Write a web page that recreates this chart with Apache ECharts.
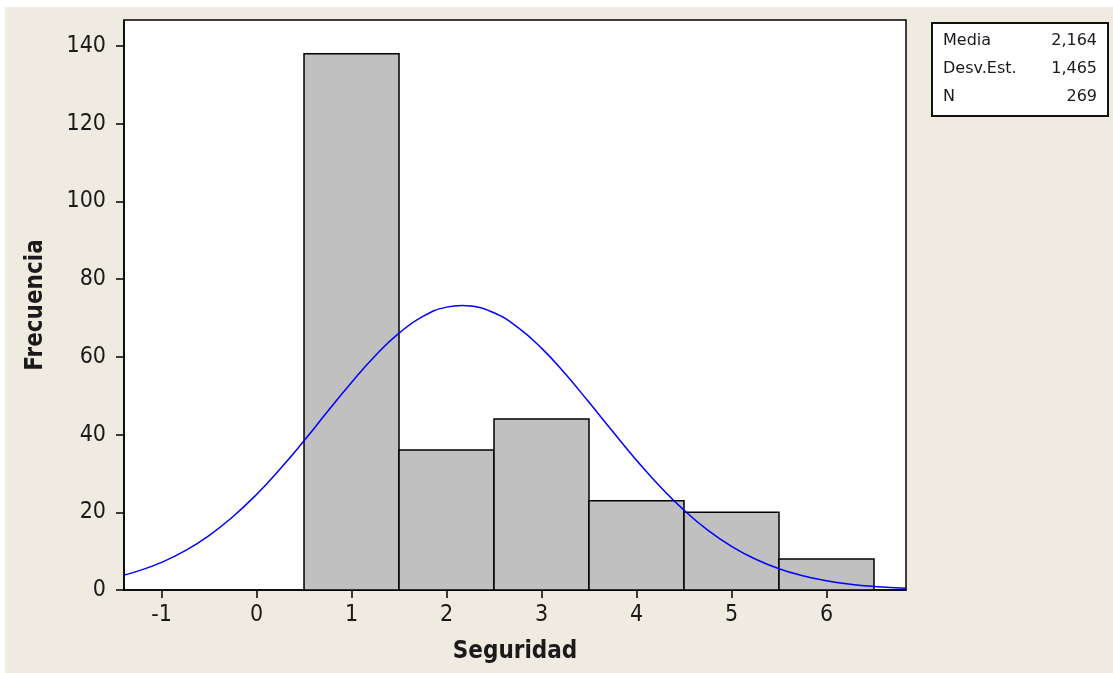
<!DOCTYPE html>
<html>
<head>
<meta charset="utf-8">
<script src="https://cdn.jsdelivr.net/npm/echarts@6/dist/echarts.min.js"></script>
<style>
  html, body { margin: 0; padding: 0; background: #ffffff; }
  #wrap { position: relative; width: 1113px; height: 673px; background: #ffffff; overflow: hidden; }
  #chart { position: absolute; left: 5px; top: 7px; width: 1108px; height: 666px; }
</style>
</head>
<body>
<div id="wrap"><div id="chart"></div></div>
<script>
// Histogram classes (bin centres) and counts
const binCenters = [1, 2, 3, 4, 5, 6];
const binCounts = [138, 36, 44, 23, 20, 8];
const binWidth = 1;

// Fitted normal curve (expected frequency per bin)
const curveX = [-1.395, -1.25, -1, -0.75, -0.5, -0.25, 0, 0.25, 0.5, 0.75, 1, 1.25, 1.5, 1.75, 2, 2.164, 2.25, 2.5, 2.75, 3, 3.25, 3.5, 3.75, 4, 4.25, 4.5, 4.75, 5, 5.25, 5.5, 5.75, 6, 6.25, 6.5, 6.837];
const curveY = [3.83, 4.85, 7.11, 10.13, 14.02, 18.85, 24.6, 31.2, 38.4, 45.98, 53.4, 60.3, 66.1, 70.4, 72.8, 73.25, 73.1, 71.35, 67.6, 62.25, 55.65, 48.3, 40.8, 33.4, 26.6, 20.55, 15.4, 11.25, 7.97, 5.48, 3.66, 2.38, 1.5, 0.92, 0.45];

// Axis ticks
const xTicks = [-1, 0, 1, 2, 3, 4, 5, 6];
const yTicks = [0, 20, 40, 60, 80, 100, 120, 140];

// Summary statistics
const statLabels = ['Media', 'Desv.Est.', 'N'];
const statValues = ['2,164', '1,465', '269'];

const FONT = '"DejaVu Sans Condensed", "DejaVu Sans", sans-serif';
const STAT_FONT = '"DejaVu Sans", sans-serif';
const INK = '#1a1a1a';

const chart = echarts.init(document.getElementById('chart'), null, { renderer: 'canvas' });

const statsGraphics = [{
  type: 'rect',
  left: 926, top: 15,
  shape: { width: 176, height: 93 },
  style: { fill: '#ffffff', stroke: '#111111', lineWidth: 2 },
  z: 10
}];
statLabels.forEach((t, i) => {
  statsGraphics.push({
    type: 'text', x: 938, y: 34 + i * 28, z: 11,
    style: { text: t, font: '16px ' + STAT_FONT, fill: INK, textAlign: 'left', textVerticalAlign: 'middle' }
  });
  statsGraphics.push({
    type: 'text', x: 1092, y: 34 + i * 28, z: 11,
    style: { text: statValues[i], font: '16px ' + STAT_FONT, fill: INK, textAlign: 'right', textVerticalAlign: 'middle' }
  });
});

chart.setOption({
  backgroundColor: '#F0EBE0',
  animation: false,
  grid: {
    left: 119, top: 13, width: 782, height: 570,
    show: true, backgroundColor: '#ffffff', borderColor: '#000000', borderWidth: 1.5
  },
  xAxis: {
    type: 'value', min: -1.395, max: 6.837,
    name: 'Seguridad', nameLocation: 'middle', nameGap: 50,
    nameTextStyle: { fontFamily: FONT, fontSize: 24, fontWeight: 'bold', color: INK },
    axisLine: { show: true, onZero: false, lineStyle: { color: '#000000', width: 1.5 } },
    axisTick: { show: true, length: 8, customValues: xTicks, lineStyle: { color: '#000000', width: 1.5 } },
    axisLabel: { customValues: xTicks, margin: 14, fontFamily: FONT, fontSize: 23, color: INK },
    splitLine: { show: false }
  },
  yAxis: {
    type: 'value', min: 0, max: 146.7,
    name: 'Frecuencia', nameLocation: 'middle', nameGap: 76,
    nameTextStyle: { fontFamily: FONT, fontSize: 24, fontWeight: 'bold', color: INK },
    axisLine: { show: true, onZero: false, lineStyle: { color: '#000000', width: 1.5 } },
    axisTick: { show: true, length: 8, customValues: yTicks, lineStyle: { color: '#000000', width: 1.5 } },
    axisLabel: { customValues: yTicks, margin: 18, fontFamily: FONT, fontSize: 23, color: INK },
    splitLine: { show: false }
  },
  graphic: statsGraphics,
  series: [
    {
      type: 'custom',
      name: 'Frecuencia',
      data: binCenters.map((c, i) => [c, binCounts[i]]),
      renderItem: function (params, api) {
        const c = api.value(0), h = api.value(1);
        const p0 = api.coord([c - binWidth / 2, 0]);
        const p1 = api.coord([c + binWidth / 2, h]);
        return {
          type: 'rect',
          shape: { x: p0[0], y: p1[1], width: p1[0] - p0[0], height: p0[1] - p1[1] },
          style: { fill: '#C0C0C0', stroke: '#000000', lineWidth: 1.5 }
        };
      },
      z: 2
    },
    {
      type: 'line',
      name: 'Normal',
      data: curveX.map((x, i) => [x, curveY[i]]),
      smooth: true,
      showSymbol: false,
      clip: true,
      lineStyle: { color: '#0000FF', width: 1.5 },
      z: 3
    }
  ]
});
</script>
</body>
</html>
